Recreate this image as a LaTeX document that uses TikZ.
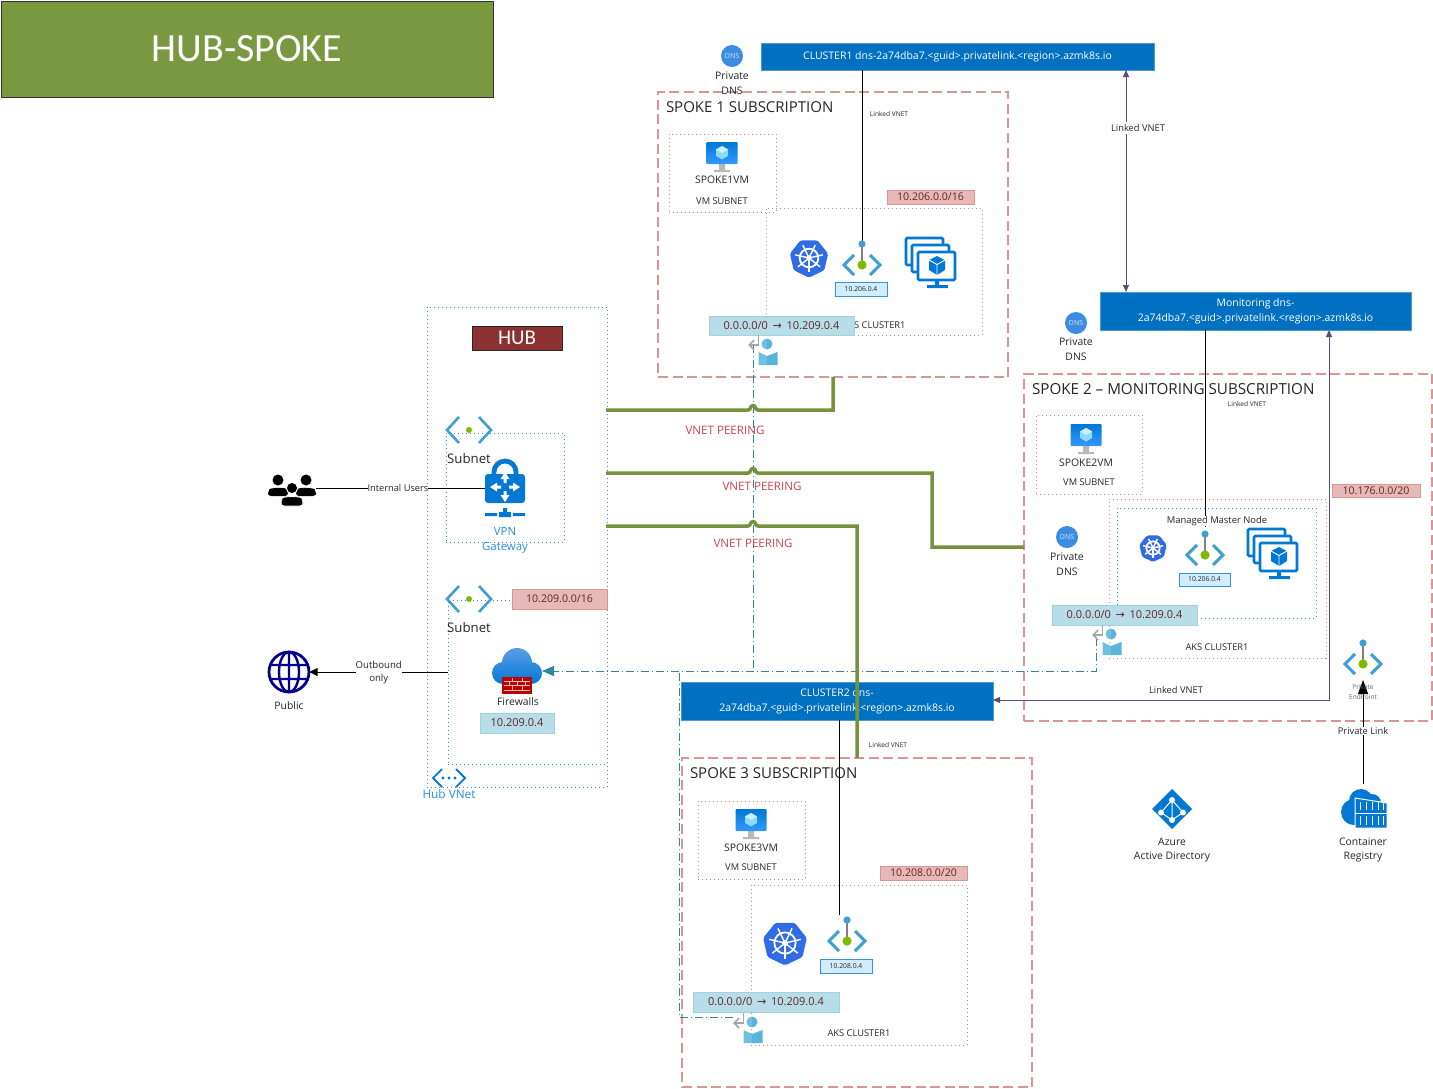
\documentclass[tikz,border=0pt]{standalone}
\usepackage{fontspec}
\setmainfont{Open Sans}
\newfontfamily\carl{Carlito}
\newfontfamily\dejav{DejaVu Sans}
\usetikzlibrary{arrows.meta}
\definecolor{hubgreen}{HTML}{7A983F}
\definecolor{peer}{HTML}{76923C}
\definecolor{azblue}{HTML}{0070C0}
\definecolor{msblue}{HTML}{0078D4}
\definecolor{spoke}{HTML}{D99694}
\definecolor{sub}{HTML}{C0504D}
\definecolor{dotblue}{HTML}{2E8FD8}
\definecolor{teal}{HTML}{31859C}
\definecolor{tagred}{HTML}{E6B8B7}
\definecolor{tagblue}{HTML}{B7DEE8}
\definecolor{tagtxt}{HTML}{632523}
\definecolor{pur}{HTML}{5F4B78}
\definecolor{chev}{HTML}{3E9FD0}
\definecolor{kube}{HTML}{326CE5}
\definecolor{peerred}{HTML}{C8444A}
\definecolor{hubred}{HTML}{8C3130}
\definecolor{dnsblue}{HTML}{3D8CE3}
\definecolor{persA}{HTML}{6FBFE0}
\definecolor{persB}{HTML}{59B4D9}
\definecolor{leaf}{HTML}{7FBA00}
\tikzset{
  x=0.5pt,y=-0.5pt,
  every node/.style={inner sep=0pt,outer sep=0pt,text=black!85},
  rbox/.style={rectangle,anchor=center},
  titlebox/.style={rbox,fill=hubgreen,draw=black!80,line width=.5pt,text=white,font=\carl\fontsize{20}{22}\selectfont},
  dnsbox/.style={rbox,fill=azblue,draw=azblue!70!white,line width=.3pt,text=white,align=center,font=\fontsize{5.23}{7.6}\selectfont},
  hubbox/.style={rbox,fill=hubred,draw=black!85,line width=.4pt,text=white,font=\carl\fontsize{10.5}{11}\selectfont},
  spokebox/.style={rbox,draw=spoke,line width=.6pt,dash pattern=on 5pt off 2.3pt},
  subnetbox/.style={rbox,draw=sub!70,line width=.5pt,dash pattern=on .5pt off 1.5pt},
  bluedot/.style={rbox,draw=dotblue,line width=.5pt,dash pattern=on .5pt off 1.5pt},
  tagr/.style={rbox,fill=tagred,draw=spoke,line width=.4pt,text=tagtxt,font=\fontsize{5.3}{6}\selectfont},
  tagb/.style={rbox,fill=tagblue,draw=tagblue!85!teal,line width=.4pt,text=tagtxt,font=\fontsize{5.5}{6}\selectfont},
  tagip/.style={rbox,fill=blue!40!cyan!18,draw=msblue!80,line width=.5pt,text=black!85,font=\fontsize{3.4}{4}\selectfont},
  lbl/.style={font=\fontsize{5.2}{6}\selectfont,align=center,yshift=-.5pt},
  lblt/.style={font=\fontsize{5.2}{7.4}\selectfont,align=center,yshift=-.5pt},
  small/.style={font=\fontsize{4.65}{6}\selectfont,align=center,yshift=-.5pt},
  bluelbl/.style={align=center,text=msblue!85!white,yshift=-.5pt},
  head/.style={anchor=west,font=\fontsize{7.5}{9}\selectfont},
  tiny/.style={font=\fontsize{3.3}{4}\selectfont},
  peering/.style={font=\fontsize{5.8}{6}\selectfont,text=peerred,yshift=-.5pt},
  green line/.style={draw=peer,line width=1.75pt,line join=miter},
  chain line/.style={draw=teal,line width=.5pt,dash pattern=on 4pt off 1.5pt on .5pt off 1.5pt},
  black line/.style={draw=black,line width=.5pt},
  purple line/.style={draw=pur,line width=.5pt,{Triangle[length=3.5pt,width=3pt]}-{Triangle[length=3.5pt,width=3pt]}},
  anchorpt/.style={minimum size=0pt},
  endpoint/.pic={
    \draw[chev,line width=1.5pt] (-8,-10)--(-18,0)--(-8,10) (8,-10)--(18,0)--(8,10);
    \draw[gray,line width=1pt] (0,0)--(0,-21);
    \fill[chev] (0,-21) circle[radius=3.6];
    \fill[leaf] (0,0) circle[radius=4.6];
  },
  subnetpic/.pic={
    \draw[chev,line width=1.3pt] (-10,-13)--(-22,0)--(-10,13) (10,-13)--(22,0)--(10,13);
    \fill[leaf] (0,0) circle[radius=3];
  },
  vnetpic/.pic={
    \draw[msblue,line width=.9pt] (-7,-9)--(-16,0)--(-7,9) (7,-9)--(16,0)--(7,9);
    \fill[msblue] (-6,0) circle[radius=1.7] (0,0) circle[radius=1.7] (6,0) circle[radius=1.7];
  },
  kubepic/.pic={
    \fill[kube,rounded corners=.8pt] (90:20) \foreach \a in {141.4,192.9,244.3,295.7,347.1,38.6} {-- (\a:20)} -- cycle;
    \draw[white,line width=.9pt] (0,0) circle[radius=9.5];
    \foreach \a in {90,141.4,192.9,244.3,295.7,347.1,38.6} {\draw[white,line width=.7pt] (0,0)--(\a:14.5);}
    \fill[white] (0,0) circle[radius=2.8];
  },
  monpic/.pic={
    \draw[msblue,line width=1.3pt,fill=white,rounded corners=.6pt] (-25,-24) rectangle (12,3);
    \draw[msblue,line width=1.3pt,fill=white,rounded corners=.6pt] (-19,-17) rectangle (18,10);
    \draw[msblue,line width=1.3pt,fill=white,rounded corners=.6pt] (-13,-10) rectangle (24,18);
    \fill[msblue] (4,18) rectangle (8,23) (-4,23) rectangle (17,26);
    \fill[msblue] (6,-6) -- (14,-2) -- (14,8) -- (6,13) -- (-2,8) -- (-2,-2) -- cycle;
    \draw[white,line width=.45pt] (-2,-2) -- (6,2.5) -- (14,-2) (6,2.5) -- (6,13);
  },
  vmpic/.pic={
    \fill[gray!55] (-3,8) rectangle (3,14) (-8,14) rectangle (8,16);
    \shade[top color=msblue,bottom color=blue!50!cyan!80!white,rounded corners=.4pt] (-15.5,-14) rectangle (15.5,8);
    \fill[cyan!45!white] (0,-10) -- (6,-6.5) -- (6,0) -- (0,3.5) -- (-6,0) -- (-6,-6.5) -- cycle;
    \fill[cyan!20!white] (0,-10) -- (6,-6.5) -- (0,-3) -- (-6,-6.5) -- cycle;
  },
  dnspic/.pic={
    \fill[dnsblue] (0,0) circle[radius=11];
    \node[text=white!75!dnsblue,font=\fontsize{3.5}{4}\selectfont] at (0,0) {DNS};
  },
  routepic/.pic={
    \draw[gray!70,line width=.8pt,-{Straight Barb[length=2.5pt,width=5pt]}] (-9.5,-9)--(-9.5,1)--(-20,1);
    \fill[persA] (-1,-5.5) arc[start angle=-90,end angle=-270,radius=5.5] -- cycle;
    \fill[persB] (-1,-5.5) arc[start angle=-90,end angle=90,radius=5.5] -- cycle;
    \fill[persA] (-9.5,8) -- (-1,12) -- (-1,21) -- (-9.5,21) -- cycle;
    \fill[persB] (9.5,8) -- (-1,12) -- (-1,21) -- (9.5,21) -- cycle;
  },
  vpnpic/.pic={
    \draw[msblue,line width=2.4pt] (-11,-12) -- (-11,-15) arc[start angle=180,end angle=360,radius=11] -- (11,-12);
    \fill[msblue,rounded corners=1.5pt] (-20,-13) rectangle (20,16);
    \foreach \r in {0,90,180,270}{
      \begin{scope}[rotate=\r]
        \fill[white] (4,-1.5) -- (8,-1.5) -- (8,-4.5) -- (15,0) -- (8,4.5) -- (8,1.5) -- (4,1.5) -- cycle;
      \end{scope}}
    \fill[msblue] (-2,21) rectangle (2,26) (-6,25) rectangle (6,30) (-20,26) rectangle (-8,29) (8,26) rectangle (20,29);
  },
  fwpic/.pic={
    \shade[top color=dnsblue!85!white,bottom color=msblue] (0,-8) circle[radius=15] (-14,2) circle[radius=11] (14,2) circle[radius=11] (0,2) circle[radius=12];
    \fill[red!75!black] (-15,6) rectangle (15,23);
    \draw[red!25!white,line width=.4pt] (-13,10)--(13,10) (-13,14.5)--(13,14.5) (-13,19)--(13,19)
      (-5,7)--(-5,10) (5,7)--(5,10) (0,10)--(0,14.5) (-8,10)--(-8,14.5) (8,10)--(8,14.5) (-5,14.5)--(-5,19) (5,14.5)--(5,19);
  },
  peoplepic/.pic={
    \fill[black] (-14,-10) circle[radius=5.5] (14,-10) circle[radius=5.5];
    \fill[black,rounded corners=1.5pt] (-24,6) -- (-24,2) .. controls (-22,-2) and (-8,-3) .. (-4,1) -- (-4,6) -- cycle;
    \fill[black,rounded corners=1.5pt] (24,6) -- (24,2) .. controls (22,-2) and (8,-3) .. (4,1) -- (4,6) -- cycle;
    \fill[black,draw=white,line width=.4pt] (0,-2) circle[radius=5.6];
    \fill[black,draw=white,line width=.4pt,rounded corners=1.5pt] (-11,16) -- (-11,11) .. controls (-9,6) and (9,6) .. (11,11) -- (11,16) -- cycle;
  },
  globepic/.pic={
    \draw[blue!55!black,line width=1.4pt] (0,0) circle[radius=20];
    \draw[blue!55!black,line width=1.2pt] (0,0) ellipse[x radius=10,y radius=20] (0,-20)--(0,20) (-18,-7)--(18,-7) (-18,7)--(18,7);
  },
  aadpic/.pic={
    \fill[msblue] (0,-20) -- (20,0) -- (0,20) -- (-20,0) -- cycle;
    \draw[white,line width=.5pt] (0,-9)--(-11,3.5)--(0,11)--(11,3.5)--cycle (0,-9)--(0,11);
    \fill[white] (0,-9) circle[radius=3] (-11,3.5) circle[radius=3] (11,3.5) circle[radius=3] (0,11) circle[radius=3];
  },
  acrpic/.pic={
    \fill[msblue] (-9,1) circle[radius=13] (-2,-10) circle[radius=12] (9,-8) circle[radius=9] (-8,6) rectangle (4,16);
    \fill[msblue,draw=white,line width=.5pt] (-8,-13) -- (24,-8) -- (24,17) -- (-8,17) -- cycle;
    \draw[white,line width=.5pt] (-8,2)--(24,2);
    \foreach \x in {-3,3,9,15,20}{\draw[white,line width=.4pt] (\x,-9)--(\x,-1) (\x,5)--(\x,14);}
  },
}
\newcommand\rb[7]{\node[#6,minimum width={(#4-#2)*0.5pt},minimum height={(#5-#3)*0.5pt}] (#1) at ({(#2+#4)/2},{(#3+#5)/2}) {#7};}
\newcommand\arr{\,{\dejav\char"2192}\,}
\begin{document}
\begin{tikzpicture}
\useasboundingbox (0,0) rectangle (1433,1088);
% containers
\rb{title}{1}{1}{493}{97}{titlebox}{HUB-SPOKE}
\rb{hub}{427}{307}{607}{787}{bluedot}{}
\rb{spokeA}{658}{92}{1008}{377}{spokebox}{}
\rb{spokeB}{1024}{374}{1432}{721}{spokebox}{}
\rb{spokeC}{682}{758}{1032}{1087}{spokebox}{}
\rb{subA}{669}{134}{776}{212}{subnetbox}{}
\rb{aksA}{766}{208}{982}{335}{subnetbox}{}
\rb{subB}{1036}{415}{1142}{494}{subnetbox}{}
\rb{aksB}{1109}{499}{1326}{658}{subnetbox}{}
\rb{mastB}{1117}{508}{1316}{618}{bluedot}{}
\rb{subC}{698}{801}{805}{879}{subnetbox}{}
\rb{aksC}{751}{885}{967}{1045}{subnetbox}{}
\rb{gwnet}{446}{433}{564}{542}{bluedot}{}
\rb{fwnet}{448}{600}{607}{764}{bluedot}{}
% icon anchors
\node[anchorpt] (epA) at (862,265) {}; \node[anchorpt] (epB) at (1205,555) {};
\node[anchorpt] (epC) at (847,941) {}; \node[anchorpt] (epR) at (1363,664) {};
\node[anchorpt] (vpn) at (505,487) {};
\node[anchor=center,minimum width=25pt,minimum height=20pt] (fw) at (517,671) {};
\node[anchorpt] (people) at (292,490) {};
\node[anchor=center,minimum size=20.5pt,circle] (globe) at (289,672) {};
\node[anchorpt] (acr) at (1363,811) {};
\coordinate (acrTop) at (1363,784);
\coordinate (epRtip) at (1363,680);
\coordinate (rtA) at (753,345); \coordinate (rtB) at (1096,638); \coordinate (rtC) at (733,1017);
\coordinate (turnB) at (1096,671); \coordinate (turnC) at (679,1017); \coordinate (meetC) at (679,671); \coordinate (meetA) at (753,671);
% chain lines
\draw[chain line] (rtA) -- (meetA);
\draw[chain line] (rtC) -- (turnC) -- (meetC);
\draw[chain line,-{Triangle[length=6pt,width=5pt]}] (rtB) -- (turnB) -- (fw.east |- turnB);
% dns boxes
\rb{clA}{761}{43}{1154}{70}{dnsbox}{CLUSTER1 dns-2a74dba7.<guid>.privatelink.<region>.azmk8s.io}
\rb{mon}{1100}{292}{1411}{330}{dnsbox}{Monitoring dns-\\2a74dba7.<guid>.privatelink.<region>.azmk8s.io}
\rb{clC}{681}{682}{993}{720}{dnsbox}{CLUSTER2 dns-\\2a74dba7.<guid>.privatelink.<region>.azmk8s.io}
% black private-link lines
\draw[black line] (clA.south -| epA) -- ([yshift=10.5pt]epA.center);
\draw[black line] (mon.south -| epB) -- ([yshift=14pt]epB.center);
\draw[black line] (clC.south -| epC) ++(-8,0) -- ([xshift=-4pt,yshift=13pt]epC.center);
% green peerings
\coordinate (hubA) at (606,410); \coordinate (hubB) at (606,473); \coordinate (hubC) at (606,526);
\draw[green line] (hubA) -- (748,410) .. controls (751,410) and (750,405.5) .. (753,405.5) .. controls (756,405.5) and (755,410) .. (758,410) -| (spokeA.south -| 833,0);
\draw[green line] (hubB) -- (748,473) .. controls (751,473) and (750,468.5) .. (753,468.5) .. controls (756,468.5) and (755,473) .. (758,473) -- (932,473) -- (932,547) -- (spokeB.west |- 0,547);
\draw[green line] (hubC) -- (748,526) .. controls (751,526) and (750,521.5) .. (753,521.5) .. controls (756,521.5) and (755,526) .. (758,526) -- (857,526) -- (spokeC.north -| 857,0);
% linked vnet arrows
\draw[purple line] (clA.south -| 1126,0) -- (mon.north -| 1126,0);
\draw[purple line] (clC.east |- 0,700) -- (1329,700) -- (mon.south -| 1329,0);
\node[small,fill=white,inner ysep=1pt] (lvA) at (1138,127) {Linked VNET};
\node[small] (lvB) at (1176,689) {Linked VNET};
\node[tiny] (lvC) at (889,114) {Linked VNET};
\node[tiny] (lvD) at (1247,404) {Linked VNET};
\node[tiny] (lvE) at (888,745) {Linked VNET};
% headings
\node[head] (hA) at (666,107) {SPOKE 1 SUBSCRIPTION};
\node[head,font=\fontsize{7.6}{9}\selectfont] (hB) at (1032,389) {SPOKE 2 – MONITORING SUBSCRIPTION};
\node[head] (hC) at (690,773) {SPOKE 3 SUBSCRIPTION};
\rb{hublbl}{472}{326}{562}{350}{hubbox}{HUB}
% peering labels
\node[peering] (pA) at (725,429) {VNET PEERING};
\node[peering] (pB) at (762,485) {VNET PEERING};
\node[peering] (pC) at (753,542) {VNET PEERING};
% tags
\rb{tA}{887}{190}{974}{204}{tagr}{10.206.0.0/16}
\rb{tB}{1332}{484}{1420}{497}{tagr}{10.176.0.0/20}
\rb{tC}{880}{866}{967}{880}{tagr}{10.208.0.0/20}
\rb{tH}{512}{589}{607}{609}{tagr}{10.209.0.0/16}
\node[small] (akA) at (874,324) {AKS CLUSTER1};
\node[small] (akB) at (1217,646) {AKS CLUSTER1};
\node[small] (akC) at (859,1032) {AKS CLUSTER1};
\rb{rA}{709}{316}{854}{335}{tagb}{0.0.0.0/0 \arr{} 10.209.0.4}
\rb{rB}{1052}{605}{1197}{625}{tagb}{0.0.0.0/0 \arr{} 10.209.0.4}
\rb{rC}{693}{992}{839}{1012}{tagb}{0.0.0.0/0 \arr{} 10.209.0.4}
\rb{rF}{480}{713}{554}{733}{tagb}{10.209.0.4}
\rb{ipA}{835}{282}{887}{296}{tagip}{10.206.0.4}
\rb{ipB}{1179}{573}{1230}{586}{tagip}{10.206.0.4}
\rb{ipC}{820}{959}{872}{973}{tagip}{10.208.0.4}
% pics
\pic at (epA) {endpoint}; \pic at (epB) {endpoint}; \pic at (epC) {endpoint}; \pic at (epR) {endpoint};
\pic at (469,430) {subnetpic}; \pic at (469,599) {subnetpic};
\pic at (449,778) {vnetpic};
\pic[scale=.98] at (809,258) {kubepic}; \pic[scale=.7] at (1153,548) {kubepic}; \pic[scale=1.12] at (785,943) {kubepic};
\pic at (931,262) {monpic}; \pic at (1273,553) {monpic};
\pic at (722,156) {vmpic}; \pic at (1086,438) {vmpic}; \pic at (751,823) {vmpic};
\pic at (732,56) {dnspic}; \pic at (1076,323) {dnspic}; \pic at (1067,537) {dnspic};
\pic at (768,344) {routepic}; \pic at (1112,634) {routepic}; \pic at (753,1022) {routepic};
\pic at (vpn) {vpnpic};
\pic at (fw) {fwpic};
\pic at (people) {peoplepic};
\pic at (globe) {globepic};
\pic at (1172,809) {aadpic};
\pic at (acr) {acrpic};
% connectors with labels
\draw[black line] ([xshift=12pt,yshift=1pt]people.center) -- node[pos=.485,small,fill=white,yshift=.5pt] (iu) {Internal Users} (485,488);
\draw[black line,-{Triangle[length=4pt,width=4pt]}] (fwnet.west |- globe) -- node[pos=.5,small,fill=white,font=\fontsize{4.8}{6.5}\selectfont,yshift=.5pt] (ob) {Outbound\\only} (globe.east);
\draw[black line,-{Triangle[length=7pt,width=5pt]}] (acrTop) -- node[pos=.51,small,fill=white,yshift=.5pt] (pl) {Private Link} (epRtip);
% labels
\node[lblt] (dA) at (732,82) {Private\\DNS};
\node[lblt] (dB) at (1076,348.5) {Private\\DNS};
\node[lblt] (dC) at (1067,563) {Private\\DNS};
\node[lbl] (vmA) at (722,179) {SPOKE1VM};
\node[lbl] (vmB) at (1086,462) {SPOKE2VM};
\node[lbl] (vmC) at (751,847) {SPOKE3VM};
\node[small] (snA) at (722,200.5) {VM SUBNET};
\node[small] (snB) at (1089,481.5) {VM SUBNET};
\node[small] (snC) at (751,866.5) {VM SUBNET};
\node[small,fill=white,font=\fontsize{4.7}{6}\selectfont] (mm) at (1217,520) {Managed Master Node};
\node[font=\fontsize{6.6}{8}\selectfont] (s1) at (469,459) {Subnet};
\node[font=\fontsize{6.6}{8}\selectfont] (s2) at (469,628) {Subnet};
\node[bluelbl,font=\fontsize{5.7}{7.6}\selectfont] (vg) at (505,539.5) {VPN\\Gateway};
\node[bluelbl,font=\fontsize{5.9}{7}\selectfont] (hv) at (449,793.5) {Hub VNet};
\node[lbl] (fwl) at (518,701) {Firewalls};
\node[lbl] (pub) at (289,705) {Public};
\node[lblt] (aad) at (1172,849) {Azure\\Active Directory};
\node[lblt] (acrl) at (1363,849) {Container\\Registry};
\node[tiny,align=center,font=\fontsize{3.3}{5}\selectfont,text=black!60] (pe) at (1363,692) {Private\\EndPoint};
\end{tikzpicture}
\end{document}
